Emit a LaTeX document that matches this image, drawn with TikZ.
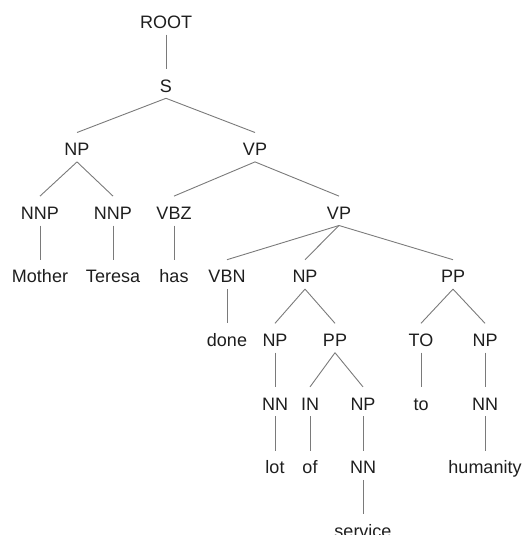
\documentclass[tikz,border=0pt]{standalone}
\usepackage{fontspec}
\setmainfont{Liberation Sans}
\definecolor{txt}{HTML}{1E1E1E}
\definecolor{edge}{HTML}{7A7A7A}
\tikzset{
  lbl/.style={anchor=base, text=txt, font=\fontsize{18}{20}\selectfont,
    text height=20pt, text depth=3pt, inner xsep=2pt, inner ysep=3pt},
  branch/.style={draw=edge, line width=0.9pt},
}
\begin{document}
\begin{tikzpicture}[x=1pt, y=-1pt]
\useasboundingbox (0,0) rectangle (524,535);
\clip (0,0) rectangle (524,535);
% baseline of each tree level
\def\ly#1{\fpeval{28.5+63.6*#1}}
\node[lbl] (root) at (166,{\ly{0}}) {ROOT};
\node[lbl] (s) at (166,{\ly{1}}) {S};
\node[lbl] (np1) at (77,{\ly{2}}) {NP};
\node[lbl] (vp1) at (255,{\ly{2}}) {VP};
\node[lbl] (nnp1) at (40,{\ly{3}}) {NNP};
\node[lbl] (nnp2) at (113,{\ly{3}}) {NNP};
\node[lbl] (vbz) at (174,{\ly{3}}) {VBZ};
\node[lbl] (vp2) at (339,{\ly{3}}) {VP};
\node[lbl] (mother) at (40,{\ly{4}}) {Mother};
\node[lbl] (teresa) at (113,{\ly{4}}) {Teresa};
\node[lbl] (has) at (174,{\ly{4}}) {has};
\node[lbl] (vbn) at (227,{\ly{4}}) {VBN};
\node[lbl] (np2) at (305,{\ly{4}}) {NP};
\node[lbl] (pp1) at (453,{\ly{4}}) {PP};
\node[lbl] (done) at (227,{\ly{5}}) {done};
\node[lbl] (np3) at (275,{\ly{5}}) {NP};
\node[lbl] (pp2) at (335,{\ly{5}}) {PP};
\node[lbl] (to1) at (421,{\ly{5}}) {TO};
\node[lbl] (np4) at (485,{\ly{5}}) {NP};
\node[lbl] (nn1) at (275,{\ly{6}}) {NN};
\node[lbl] (in1) at (310,{\ly{6}}) {IN};
\node[lbl] (np5) at (363,{\ly{6}}) {NP};
\node[lbl] (to) at (421,{\ly{6}}) {to};
\node[lbl] (nn2) at (485,{\ly{6}}) {NN};
\node[lbl] (lot) at (275,{\ly{7}}) {lot};
\node[lbl] (of) at (310,{\ly{7}}) {of};
\node[lbl] (nn3) at (363,{\ly{7}}) {NN};
\node[lbl] (humanity) at (485,{\ly{7}}) {humanity};
\node[lbl] (service) at (363,{\ly{8}}) {service};
% branches
\foreach \p/\c in {root/s, s/np1, s/vp1, np1/nnp1, np1/nnp2, vp1/vbz, vp1/vp2,
    nnp1/mother, nnp2/teresa, vbz/has, vp2/vbn, vp2/np2, vp2/pp1,
    vbn/done, np2/np3, np2/pp2, pp1/to1, pp1/np4,
    np3/nn1, pp2/in1, pp2/np5, to1/to, np4/nn2,
    nn1/lot, in1/of, np5/nn3, nn2/humanity, nn3/service}
  \draw[branch] (\p.south) -- (\c.north);
\end{tikzpicture}
\end{document}
